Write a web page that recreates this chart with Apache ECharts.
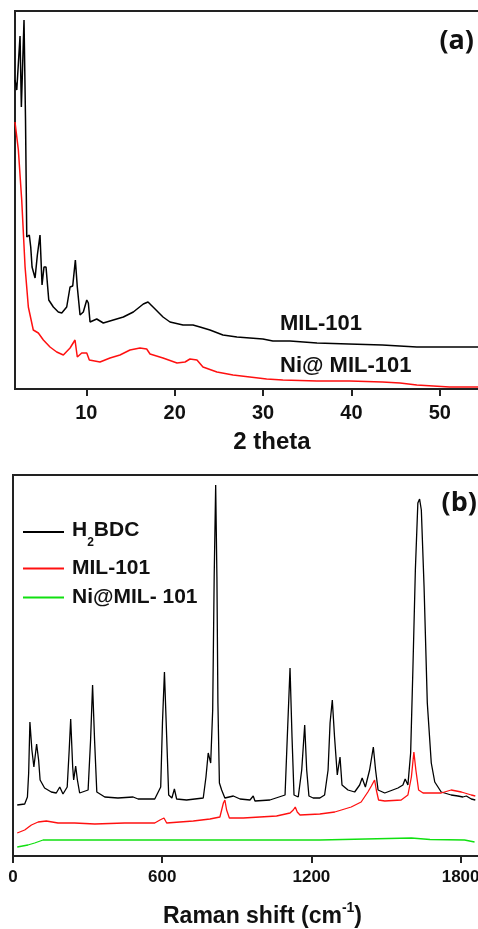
<!DOCTYPE html>
<html>
<head>
<meta charset="utf-8">
<title>MIL-101 XRD and Raman</title>
<script src="https://cdn.jsdelivr.net/npm/echarts@6/dist/echarts.min.js"></script>
<style>
  html, body { margin: 0; padding: 0; background: #fff; }
  #chart { width: 478px; height: 929px; }
</style>
</head>
<body>
<div id="chart"></div>
<script>
// (a) XRD, [2theta, intensity a.u.]
const xrdMil101 = [
  [1.93, 309], [2.13, 299], [2.5, 353], [2.65, 282], [2.95, 369], [3.12, 269],
  [3.26, 152], [3.55, 154], [3.71, 142], [3.86, 122], [4.0, 124], [4.2, 111],
  [4.46, 134], [4.76, 154], [4.99, 104], [5.21, 122], [5.44, 122], [5.75, 89],
  [6.27, 82], [6.83, 77], [7.22, 76], [7.78, 82], [8.16, 102], [8.46, 103],
  [8.76, 129], [8.98, 102], [9.29, 74], [9.66, 77], [10.05, 89], [10.23, 86],
  [10.42, 67], [11.18, 70], [11.92, 66], [13.05, 69], [14.19, 72], [15.32, 77],
  [16.45, 85], [16.98, 87], [17.55, 82], [18.68, 72], [19.47, 67], [20.94, 64],
  [22.07, 64], [22.86, 62], [23.99, 59], [25.46, 54], [27.04, 52], [28.51, 51],
  [29.98, 50], [31.11, 48], [33.04, 48], [36.1, 46], [39.7, 45], [43.5, 44],
  [47.4, 42], [51.1, 42], [55, 42]
];
const xrdNiMil101 = [
  [1.93, 267], [2.31, 239], [2.69, 189], [3.07, 122], [3.44, 82], [4.0, 59],
  [4.57, 56], [5.14, 49], [5.89, 42], [6.65, 37], [7.4, 34], [8.16, 41],
  [8.72, 49], [8.98, 32], [9.48, 36], [10.05, 36], [10.34, 29], [11.55, 27],
  [12.68, 31], [13.81, 34], [14.94, 39], [16.07, 41], [16.83, 40], [17.21, 35],
  [18.68, 31], [20.26, 26], [21.17, 27], [21.73, 30], [22.52, 29], [23.2, 22],
  [24.78, 17], [26.6, 14], [28.5, 12], [30.4, 10], [32.24, 9], [36.1, 8],
  [39.8, 8], [43.5, 7], [45.5, 6], [47.4, 4], [51.1, 2], [55, 2]
];
const xrdTicks = [10, 20, 30, 40, 50];

// (b) Raman, [shift cm-1, intensity a.u.]
const ramanH2bdc = [
  [17, 51], [47, 52], [58, 59], [63, 83], [68, 134], [76, 106], [84, 89], [95, 112],
  [103, 96], [109, 76], [127, 68], [154, 64], [174, 63], [188, 69], [201, 62],
  [218, 69], [226, 106], [232, 137], [240, 89], [244, 76], [252, 90], [259, 76],
  [268, 63], [302, 66], [312, 116], [320, 171], [328, 116], [337, 64], [369, 59],
  [422, 58], [483, 59], [503, 57], [570, 57], [594, 69], [601, 133], [609, 184],
  [618, 119], [626, 61], [639, 58], [649, 67], [658, 57], [698, 56], [765, 58],
  [776, 79], [785, 103], [795, 93], [803, 146], [809, 279], [815, 371], [820, 279],
  [824, 153], [830, 73], [839, 66], [852, 58], [886, 60], [913, 57], [953, 56],
  [966, 60], [973, 55], [1033, 56], [1094, 61], [1103, 119], [1114, 188], [1122, 119],
  [1130, 61], [1147, 59], [1161, 86], [1173, 131], [1181, 86], [1190, 60], [1207, 58],
  [1234, 58], [1253, 61], [1267, 86], [1275, 133], [1284, 156], [1293, 119],
  [1304, 81], [1315, 99], [1323, 71], [1347, 66], [1374, 64], [1394, 71], [1404, 78],
  [1417, 69], [1434, 86], [1449, 109], [1458, 86], [1468, 66], [1495, 63], [1548, 68],
  [1568, 71], [1577, 77], [1588, 71], [1599, 103], [1608, 186], [1618, 286],
  [1628, 353], [1635, 357], [1642, 346], [1653, 269], [1666, 153], [1682, 93],
  [1696, 74], [1722, 64], [1762, 61], [1789, 60], [1809, 59], [1823, 60], [1843, 57],
  [1859, 56]
];
const ramanMil101 = [
  [17, 23], [47, 26], [74, 31], [101, 34], [134, 35], [181, 33], [248, 33], [329, 32],
  [449, 33], [570, 33], [591, 36], [607, 38], [618, 33], [671, 34], [725, 35],
  [792, 37], [832, 39], [846, 53], [852, 56], [859, 46], [870, 38], [926, 38],
  [993, 39], [1060, 40], [1114, 43], [1127, 46], [1135, 49], [1143, 44], [1154, 41],
  [1234, 42], [1294, 44], [1360, 49], [1400, 54], [1427, 64], [1441, 70], [1454, 76],
  [1461, 66], [1470, 56], [1495, 55], [1561, 56], [1588, 61], [1602, 79], [1612, 104],
  [1620, 86], [1631, 66], [1649, 63], [1682, 63], [1722, 63], [1762, 66], [1803, 64],
  [1843, 61], [1859, 60]
];
const ramanNiMil101 = [
  [17, 9], [60, 11], [87, 13], [121, 16], [248, 16], [623, 16], [1234, 16],
  [1602, 18], [1677, 16.5], [1816, 16], [1856, 14]
];
const ramanTicks = [0, 600, 1200, 1800];

const ARIAL = '"Liberation Sans", Arial, sans-serif';
const frame = '#222';

const chart = echarts.init(document.getElementById('chart'));

function axisX(gridIndex, min, max, ticks, labelSize, labelMargin) {
  return {
    type: 'value',
    gridIndex: gridIndex,
    min: min,
    max: max,
    axisLine: { show: false },
    splitLine: { show: false },
    axisTick: {
      show: true,
      length: 7,
      customValues: ticks,
      lineStyle: { color: frame, width: 2 }
    },
    axisLabel: {
      customValues: ticks,
      margin: labelMargin,
      formatter: v => String(v),
      color: '#111',
      fontFamily: ARIAL,
      fontWeight: 'bold',
      fontSize: labelSize
    },
    nameLocation: 'middle'
  };
}

function line(name, data, color, idx, width) {
  return {
    name: name,
    type: 'line',
    xAxisIndex: idx,
    yAxisIndex: idx,
    data: data,
    symbol: 'none',
    showSymbol: false,
    silent: true,
    lineStyle: { color: color, width: width },
    itemStyle: { color: color }
  };
}

const xa = axisX(0, 1.93, 55, xrdTicks, 20, 14);
xa.name = '2 theta';
xa.nameGap = 41;
xa.nameTextStyle = {
  fontFamily: ARIAL, fontWeight: 'bold', fontSize: 24, color: '#111',
  padding: [0, 0, 0, 45]
};

const xb = axisX(1, 0, 1894, ramanTicks, 17, 13);
xb.name = '{a|Raman shift (cm}{s|-1}{a|)}';
xb.nameGap = 45;
xb.nameTextStyle = {
  padding: [0, 0, 0, 28],
  rich: {
    a: { fontFamily: ARIAL, fontWeight: 'bold', fontSize: 23, color: '#111', lineHeight: 27, verticalAlign: 'bottom' },
    s: { fontFamily: ARIAL, fontWeight: 'bold', fontSize: 14, color: '#111', lineHeight: 27, verticalAlign: 'top', padding: [0, 0, 10, 0] }
  }
};

const legendText = { fontFamily: ARIAL, fontWeight: 'bold', fontSize: 21, color: '#111', padding: [0, 0, 0, 3] };

function legendAt(name, top, extra) {
  return Object.assign({
    data: [name],
    left: 23,
    top: top,
    padding: 0,
    icon: 'rect',
    itemWidth: 41,
    itemHeight: 2,
    selectedMode: false,
    textStyle: legendText
  }, extra || {});
}

chart.setOption({
  animation: false,
  backgroundColor: '#fff',
  grid: [
    { left: 15, right: -6, top: 11, bottom: 540, show: true, borderColor: frame, borderWidth: 2, outerBoundsMode: 'none', containLabel: false },
    { left: 13, right: -6, top: 475, bottom: 73, show: true, borderColor: frame, borderWidth: 2, outerBoundsMode: 'none', containLabel: false }
  ],
  xAxis: [xa, xb],
  yAxis: [
    { type: 'value', gridIndex: 0, min: 0, max: 378, show: false },
    { type: 'value', gridIndex: 1, min: 0, max: 381, show: false }
  ],
  legend: [
    legendAt('H2BDC', 520, {
      formatter: function () { return '{a|H}{s|2}{a|BDC}'; },
      textStyle: Object.assign({}, legendText, {
        rich: {
          a: { fontFamily: ARIAL, fontWeight: 'bold', fontSize: 21, color: '#111', lineHeight: 24, verticalAlign: 'top' },
          s: { fontFamily: ARIAL, fontWeight: 'bold', fontSize: 12, color: '#111', lineHeight: 14, verticalAlign: 'top', padding: [17, 0, 0, 0] }
        }
      })
    }),
    legendAt('MIL-101', 558),
    legendAt('Ni@MIL- 101', 587)
  ],
  graphic: [
    { type: 'text', x: 474, y: 41, style: { text: '(a)', font: 'bold 27px "Open Sans", sans-serif', fill: '#111', align: 'right', verticalAlign: 'middle', textAlign: 'right', textVerticalAlign: 'middle' } },
    { type: 'text', x: 477, y: 503, style: { text: '(b)', font: 'bold 27px "Open Sans", sans-serif', fill: '#111', align: 'right', verticalAlign: 'middle', textAlign: 'right', textVerticalAlign: 'middle' } },
    { type: 'text', x: 280, y: 324, style: { text: 'MIL-101', font: 'bold 22px "Liberation Sans", Arial, sans-serif', fill: '#111', verticalAlign: 'middle', textVerticalAlign: 'middle' } },
    { type: 'text', x: 280, y: 366, style: { text: 'Ni@ MIL-101', font: 'bold 22px "Liberation Sans", Arial, sans-serif', fill: '#111', verticalAlign: 'middle', textVerticalAlign: 'middle' } }
  ],
  series: [
    line('MIL-101 XRD', xrdMil101, '#000', 0, 1.5),
    line('Ni@ MIL-101 XRD', xrdNiMil101, '#ff1010', 0, 1.5),
    line('H2BDC', ramanH2bdc, '#000', 1, 1.3),
    line('MIL-101', ramanMil101, '#ff1010', 1, 1.3),
    line('Ni@MIL- 101', ramanNiMil101, '#10e010', 1, 1.3)
  ]
});
</script>
</body>
</html>
